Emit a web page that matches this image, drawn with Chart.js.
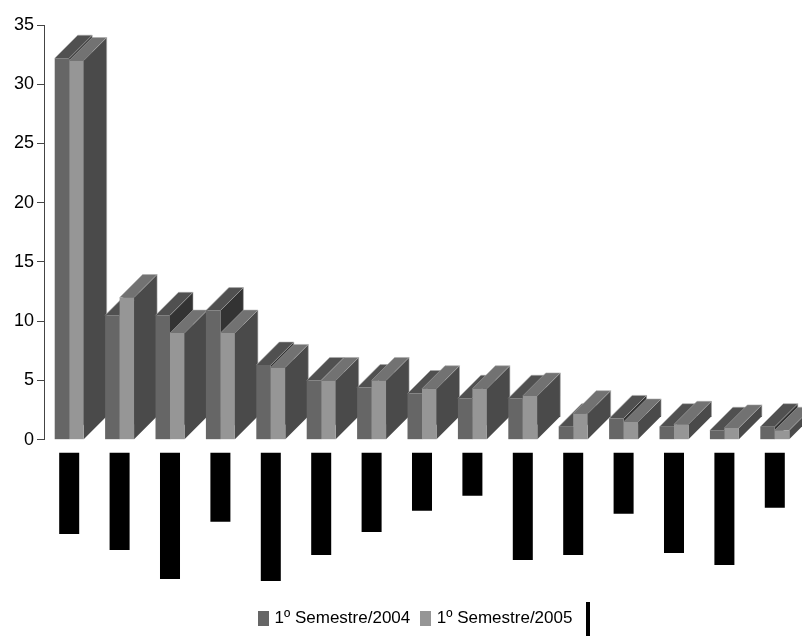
<!DOCTYPE html>
<html>
<head>
<meta charset="utf-8">
<script src="https://cdn.jsdelivr.net/npm/chart.js@4.4.1/dist/chart.umd.min.js"></script>
<style>
html,body{margin:0;padding:0;background:#ffffff;}
#wrap{width:802px;height:637px;position:relative;}
</style>
</head>
<body>
<div id="wrap"><canvas id="c"></canvas></div>
<script>
// ---- data ----
const categories = ['1','2','3','4','5','6','7','8','9','10','11','12','13','14','15'];
const seriesNames = ['1º Semestre/2004', '1º Semestre/2005'];
const semestre2004 = [32.2, 10.5, 10.5, 10.9, 6.3, 5.0, 4.4, 3.9, 3.5, 3.5, 1.1, 1.8, 1.1, 0.8, 1.1];
const semestre2005 = [32.0, 12.0, 9.0, 9.0, 6.1, 5.0, 5.0, 4.3, 4.3, 3.7, 2.2, 1.5, 1.3, 1.0, 0.8];
// category labels appear as solid black blocks below the axis; their extents
const labelBlockEnds = [94, 110, 139, 82, 141, 115, 92, 71, 56, 120, 115, 74, 113, 125, 68];
const yTickValues = [0, 5, 10, 15, 20, 25, 30, 35];

// ---- styles ----
const FONT = "'Liberation Sans Narrow', 'Arial Narrow', 'Liberation Sans', Arial, sans-serif";
const front = ['#666666', '#969696'];
const faces = [{top: '#505050', side: '#333333'}, {top: '#727272', side: '#4a4a4a'}];
const edgeColor = 'rgba(170,170,170,0.7)';

function marker(w, h, color) {
  const c = document.createElement('canvas');
  c.width = w; c.height = h;
  const g = c.getContext('2d'); g.fillStyle = color; g.fillRect(0, 0, w, h);
  return c;
}
const legendMarkers = [marker(11, 15, front[0]), marker(11, 15, front[1]), marker(4, 34, '#000000')];

const depth3d = {
  id: 'depth3d',
  afterLayout(chart) {
    // the reference legend sits a little right of the canvas centre
    if (chart.legend) { chart.legend.left += 30; chart.legend.right += 30; }
  },
  beforeDatasetsDraw(chart) {
    const ctx = chart.ctx;
    const dx = 23, dy = 23;
    const metas = [chart.getDatasetMeta(0), chart.getDatasetMeta(1)];
    ctx.save();
    ctx.lineWidth = 0.8;
    ctx.strokeStyle = edgeColor;
    for (let i = 0; i < categories.length; i++) {
      metas.forEach((meta, d) => {
        const el = meta.data[i];
        if (!el) return;
        const p = el.getProps(['x', 'y', 'base', 'width'], true);
        const l = p.x - p.width / 2, r = p.x + p.width / 2;
        ctx.fillStyle = faces[d].side;
        ctx.beginPath();
        ctx.moveTo(r, p.y); ctx.lineTo(r + dx, p.y - dy);
        ctx.lineTo(r + dx, p.base - dy); ctx.lineTo(r, p.base);
        ctx.closePath(); ctx.fill();
        ctx.fillStyle = faces[d].top;
        ctx.beginPath();
        ctx.moveTo(l, p.y); ctx.lineTo(l + dx, p.y - dy);
        ctx.lineTo(r + dx, p.y - dy); ctx.lineTo(r, p.y);
        ctx.closePath(); ctx.fill();
        // light outer edges
        ctx.beginPath();
        ctx.moveTo(l, p.y); ctx.lineTo(l + dx, p.y - dy);
        ctx.lineTo(r + dx, p.y - dy); ctx.lineTo(r, p.y);
        ctx.moveTo(r + dx, p.y - dy); ctx.lineTo(r + dx, p.base - dy);
        ctx.stroke();
      });
    }
    ctx.restore();
  }
};

new Chart(document.getElementById('c'), {
  type: 'bar',
  data: {
    labels: categories,
    datasets: [
      {label: seriesNames[0], data: semestre2004, backgroundColor: front[0], borderWidth: 0,
       categoryPercentage: 0.575, barPercentage: 1.0, yAxisID: 'y'},
      {label: seriesNames[1], data: semestre2005, backgroundColor: front[1], borderWidth: 0,
       categoryPercentage: 0.575, barPercentage: 1.0, yAxisID: 'y'},
      {label: '', data: labelBlockEnds, base: 13, backgroundColor: '#000000', borderWidth: 0,
       grouped: false, categoryPercentage: 0.397, barPercentage: 1.0, yAxisID: 'yLab'}
    ]
  },
  options: {
    responsive: true,
    maintainAspectRatio: false,
    animation: false,
    layout: {padding: {top: 25, right: 2, bottom: 0, left: 0}},
    plugins: {
      tooltip: {enabled: false},
      legend: {
        position: 'bottom',
        labels: {
          usePointStyle: true,
          pointStyleWidth: 5,
          boxHeight: 15,
          padding: 13,
          color: '#000000',
          font: {family: FONT, size: 17},
          generateLabels: () => [
            {text: seriesNames[0], fillStyle: front[0], strokeStyle: front[0], lineWidth: 0, pointStyle: legendMarkers[0], datasetIndex: 0, hidden: false},
            {text: seriesNames[1], fillStyle: front[1], strokeStyle: front[1], lineWidth: 0, pointStyle: legendMarkers[1], datasetIndex: 1, hidden: false},
            {text: '', fillStyle: '#000000', strokeStyle: '#000000', lineWidth: 0, pointStyle: legendMarkers[2], datasetIndex: 2, hidden: false}
          ]
        }
      }
    },
    scales: {
      x: {type: 'category', display: false, offset: true},
      y: {
        type: 'linear', position: 'left', stack: 'v', stackWeight: 414, weight: 1,
        min: 0, max: 35,
        afterBuildTicks: s => { s.ticks = yTickValues.map(v => ({value: v})); },
        afterFit: s => { s.width = 44; },
        ticks: {color: '#000000', padding: 3, font: {family: FONT, size: 18}},
        grid: {display: true, drawOnChartArea: false, drawTicks: true, tickLength: 7, color: '#444444'},
        border: {display: true, color: '#444444', width: 1}
      },
      yLab: {
        type: 'linear', position: 'left', stack: 'v', stackWeight: 157, weight: 0,
        min: 0, max: 157, reverse: true,
        afterFit: s => { s.width = 44; },
        ticks: {display: false},
        grid: {display: false},
        border: {display: false}
      }
    }
  },
  plugins: [depth3d]
});
</script>
</body>
</html>
